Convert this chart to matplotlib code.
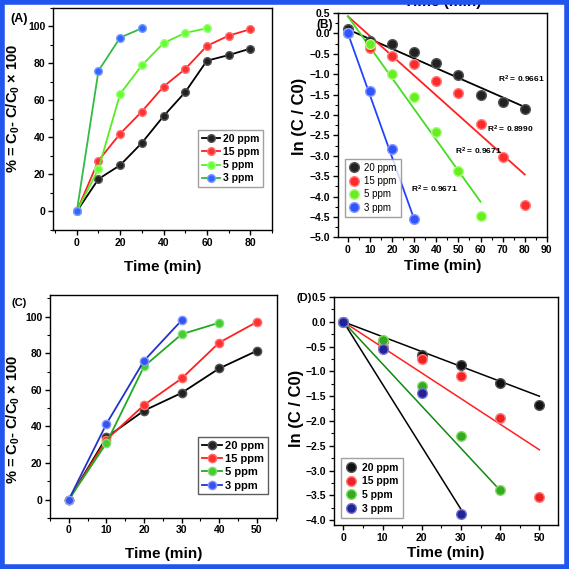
import numpy as np
import matplotlib.pyplot as plt
from matplotlib.patches import Rectangle
from matplotlib.ticker import MultipleLocator

plt.rcParams['font.family'] = ['Liberation Sans', 'DejaVu Sans']
plt.rcParams['font.weight'] = 'bold'
plt.rcParams['mathtext.fontset'] = 'custom'
plt.rcParams['mathtext.bf'] = 'Liberation Sans:bold'
plt.rcParams['mathtext.rm'] = 'Liberation Sans:bold'
plt.rcParams['mathtext.default'] = 'bf'

labels = ['20 ppm', '15 ppm', '5 ppm', '3 ppm']

# Panel A: removal % vs time
t_a = [0, 10, 20, 30, 40, 50, 60, 70, 80]
a_20 = [0, 17.5, 25, 37, 51.5, 64.5, 81.5, 84.5, 88]
a_15 = [0, 27.5, 42, 54, 67.5, 77, 89.5, 95, 98.5]
a_5 = [0, 23, 63.5, 79, 91, 96.5, 99]
a_3 = [0, 76, 94, 99]

# Panel B: ln(C/C0) vs time, with fitted lines (intercept, slope, end time)
b_20 = [0.1, -0.19, -0.27, -0.45, -0.72, -1.03, -1.5, -1.67, -1.85]
b_15 = [0, -0.35, -0.55, -0.76, -1.16, -1.47, -2.22, -3.02, -4.2]
b_5 = [0, -0.25, -1.0, -1.55, -2.41, -3.38, -4.48]
b_3 = [0, -1.42, -2.83, -4.55]
b_fit = [(0.1, -0.0238, 80), (0.42, -0.0485, 80), (0.42, -0.0758, 60), (0.0, -0.152, 30)]
b_r2 = ['0.9661', '0.8990', '0.9671', '0.9671']
b_r2_pos = [(68, -1.2), (63, -2.42), (48.5, -2.97), (28.5, -3.9)]

# Panel C
t_c = [0, 10, 20, 30, 40, 50]
c_20 = [0, 34, 48.6, 58.3, 71.7, 81.3]
c_15 = [0, 32.7, 51.7, 66.2, 85.8, 97.1]
c_5 = [0, 30.9, 72.8, 90.4, 96.7]
c_3 = [0, 41.4, 75.9, 98]

# Panel D
d_20 = [0, -0.38, -0.67, -0.87, -1.24, -1.68]
d_15 = [0, -0.5, -0.74, -1.09, -1.94, -3.53]
d_5 = [0, -0.36, -1.3, -2.31, -3.39]
d_3 = [0, -0.55, -1.43, -3.88]
d_fit = [(0, -0.030, 50), (0, -0.0516, 50), (0, -0.085, 40), (0, -0.126, 30)]

fig = plt.figure(figsize=(5.69, 5.69), dpi=100)

ylab_pct = r'% = C$_0$- C/C$_0$ $\times$ 100'


def style_axes(ax, xmaj, xmin, ymaj, ymin):
    ax.xaxis.set_major_locator(MultipleLocator(xmaj))
    ax.xaxis.set_minor_locator(MultipleLocator(xmin))
    ax.yaxis.set_major_locator(MultipleLocator(ymaj))
    ax.yaxis.set_minor_locator(MultipleLocator(ymin))
    ax.tick_params(which='both', direction='out', top=False, right=False, labelsize=7.5, pad=2)
    ax.tick_params(which='major', length=3.5, width=1)
    ax.tick_params(which='minor', length=2, width=0.8)
    for s in ax.spines.values():
        s.set_linewidth(1.0)
    for lab in ax.get_xticklabels() + ax.get_yticklabels():
        lab.set_fontweight('bold')


def bold_legend(leg, weight='bold'):
    for txt in leg.get_texts():
        txt.set_fontweight(weight)


# ---- (A)
ax = fig.add_axes([0.093, 0.596, 0.385, 0.390])
ax.plot(t_a, a_20, '-o', color='black', mfc='#222222', mec='#555555', ms=5.5, lw=1.3, label=labels[0])
ax.plot(t_a, a_15, '-o', color='#ff2020', mfc='#ff3030', mec='#ff7070', ms=5.5, lw=1.3, label=labels[1])
ax.plot(t_a[:len(a_5)], a_5, '-o', color='#55ee22', mfc='#66ff33', mec='#99ff77', ms=5.5, lw=1.3, label=labels[2])
ax.plot(t_a[:len(a_3)], a_3, '-o', color='#33bb44', mfc='#3366ff', mec='#7799ff', ms=5.5, lw=1.3, label=labels[3])
ax.set_xlim(-11, 90)
ax.set_ylim(-10, 110)
style_axes(ax, 20, 10, 20, 10)
ax.set_xlabel('Time (min)', fontsize=11, fontweight='bold', labelpad=9)
ax.set_ylabel(ylab_pct, fontsize=10.5, fontweight='bold')
ax.yaxis.set_label_coords(-0.14, 0.55)
leg = ax.legend(loc='lower right', bbox_to_anchor=(0.985, 0.17), fontsize=7.5, handlelength=1.8,
                borderpad=0.35, labelspacing=0.3, handletextpad=0.3, fancybox=False, edgecolor='#888888')
bold_legend(leg)
fig.text(0.018, 0.962, '(A)', fontsize=9, fontweight='bold')

# ---- (B)
ax = fig.add_axes([0.594, 0.583, 0.367, 0.394])
cols_b = [('#222222', '#555555'), ('#ff2a2a', '#ff8080'), ('#66ee22', '#aaff77'), ('#2f55ff', '#8899ff')]
line_b = ['black', '#ff2020', '#44dd22', '#2244ff']
for ys, (fc, ec), lab in zip([b_20, b_15, b_5, b_3], cols_b, labels):
    ax.plot(t_a[:len(ys)], ys, 'o', mfc=fc, mec=ec, ms=7, label=lab, zorder=3)
for (b0, k, tend), lc in zip(b_fit, line_b):
    xs = np.array([0, tend])
    ax.plot(xs, b0 + k * xs, color=lc, lw=1.3, zorder=2)
for r2, (x, y) in zip(b_r2, b_r2_pos):
    ax.text(x, y, r'R$^2$ = ' + r2, fontsize=6, fontweight='bold')
ax.set_xlim(-4.5, 90)
ax.set_ylim(-5.0, 0.5)
style_axes(ax, 10, 5, 0.5, 0.25)
ax.set_xlabel('Time (min)', fontsize=11, fontweight='bold', labelpad=3)
ax.set_ylabel('ln (C / C0)', fontsize=12, fontweight='bold')
ax.yaxis.set_label_coords(-0.15, 0.54)
leg = ax.legend(loc='lower left', bbox_to_anchor=(0.01, 0.07), fontsize=7, handlelength=1.0,
                borderpad=0.4, labelspacing=0.35, handletextpad=0.6, fancybox=False, edgecolor='#888888')
bold_legend(leg, 'normal')
fig.text(0.556, 0.951, '(B)', fontsize=8.5, fontweight='bold')
# x label of a panel above, cut off by the top edge in the source image
fig.text(0.778, 0.997, 'Time (min)', fontsize=11, fontweight='bold', ha='center', va='center')

# ---- (C)
ax = fig.add_axes([0.088, 0.090, 0.399, 0.392])
ax.plot(t_c, c_20, '-o', color='black', mfc='#222222', mec='#555555', ms=6, lw=1.3, label=labels[0])
ax.plot(t_c, c_15, '-o', color='#ff2020', mfc='#ff3030', mec='#ff7070', ms=6, lw=1.3, label=labels[1])
ax.plot(t_c[:len(c_5)], c_5, '-o', color='#22aa22', mfc='#44cc33', mec='#88dd77', ms=6, lw=1.3, label=labels[2])
ax.plot(t_c[:len(c_3)], c_3, '-o', color='#2233cc', mfc='#3355ee', mec='#8899ff', ms=6, lw=1.3, label=labels[3])
ax.set_xlim(-5, 55.4)
ax.set_ylim(-10, 112)
style_axes(ax, 10, 5, 20, 10)
ax.set_xlabel('Time (min)', fontsize=11, fontweight='bold', labelpad=8)
ax.set_ylabel(ylab_pct, fontsize=10.5, fontweight='bold')
ax.yaxis.set_label_coords(-0.125, 0.44)
leg = ax.legend(loc='lower right', bbox_to_anchor=(0.985, 0.08), fontsize=8, handlelength=1.8,
                borderpad=0.35, labelspacing=0.3, handletextpad=0.3, fancybox=False, edgecolor='#333333')
bold_legend(leg)
fig.text(0.02, 0.462, '(C)', fontsize=8, fontweight='bold')

# ---- (D)
ax = fig.add_axes([0.587, 0.077, 0.394, 0.401])
cols_d = [('#111111', '#555555'), ('#ee2222', '#ff8080'), ('#33aa22', '#88dd66'), ('#222299', '#7777cc')]
line_d = ['black', '#ff2020', '#118811', 'black']
for ys, (fc, ec), lab in zip([d_20, d_15, d_5, d_3], cols_d, labels):
    ax.plot(t_c[:len(ys)], ys, 'o', mfc=fc, mec=ec, ms=7, label=lab, zorder=3)
for (b0, k, tend), lc in zip(d_fit, line_d):
    xs = np.array([0, tend])
    ax.plot(xs, b0 + k * xs, color=lc, lw=1.1, zorder=2)
ax.set_xlim(-2.4, 54.8)
ax.set_ylim(-4.1, 0.5)
style_axes(ax, 10, 5, 0.5, 0.25)
ax.set_xlabel('Time (min)', fontsize=11, fontweight='bold', labelpad=2)
ax.set_ylabel('ln (C / C0)', fontsize=12, fontweight='bold')
ax.yaxis.set_label_coords(-0.135, 0.51)
leg = ax.legend(loc='lower left', bbox_to_anchor=(0.01, 0.01), fontsize=7.5, handlelength=1.0,
                borderpad=0.4, labelspacing=0.35, handletextpad=0.6, fancybox=False, edgecolor='#888888')
bold_legend(leg)
fig.text(0.521, 0.471, '(D)', fontsize=8, fontweight='bold')

# blue frame round the whole figure
fig.patches.append(Rectangle((0.004, 0.004), 0.992, 0.992, transform=fig.transFigure,
                             fill=False, edgecolor='#2255ee', linewidth=4, zorder=10))

fig.savefig('out.png', dpi=100)
